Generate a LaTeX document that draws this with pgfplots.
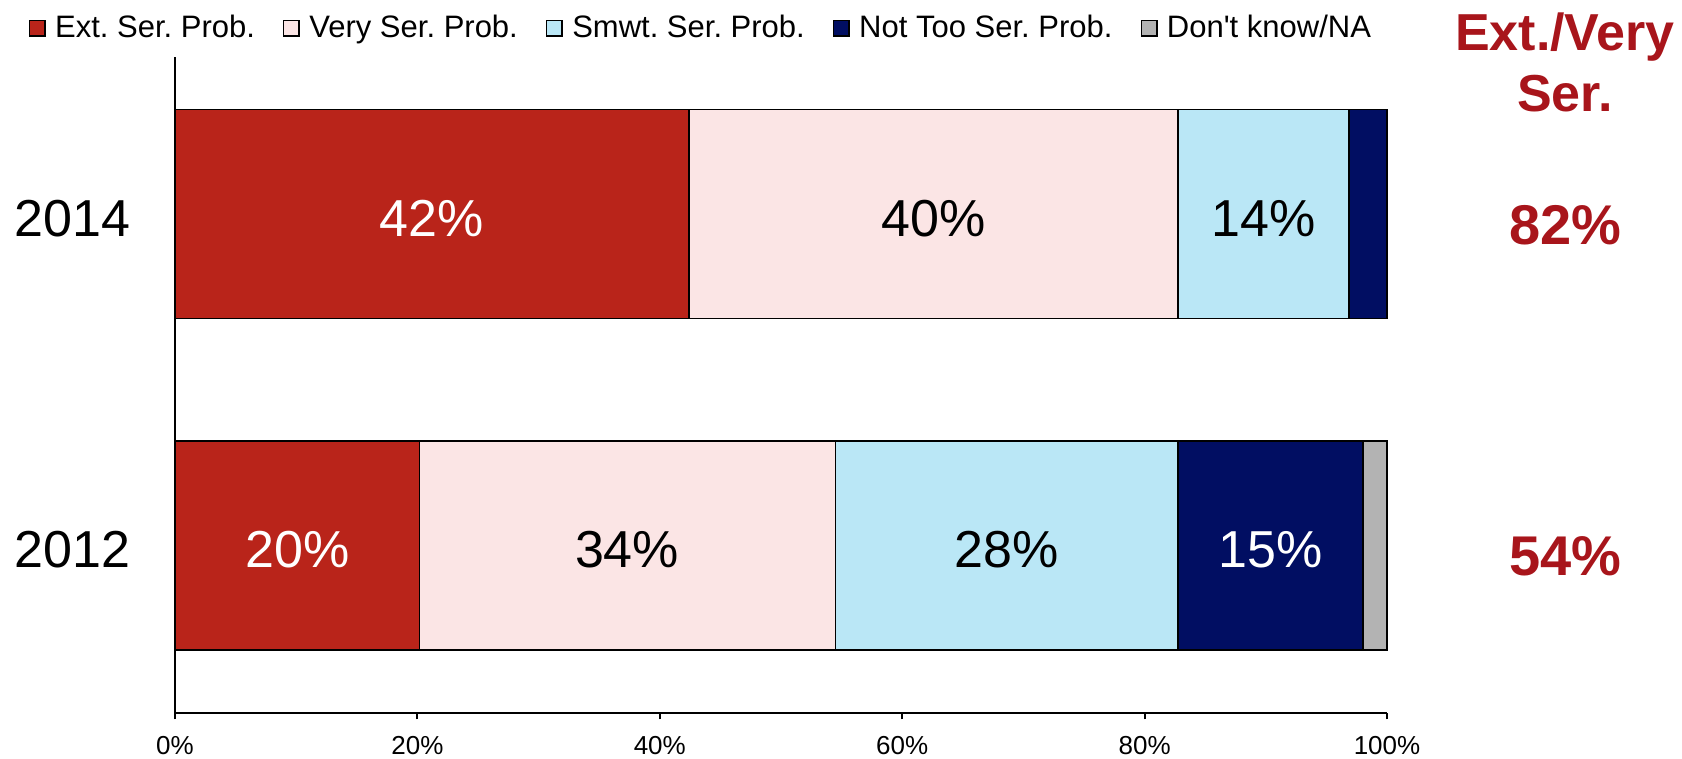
\documentclass[border=0pt]{standalone}
\usepackage{pgfplots}
\pgfplotsset{compat=1.18}
\usepackage{pgfplotstable}
\usepackage{fontspec}
\setmainfont{Liberation Sans}
\frenchspacing
\definecolor{cext}{HTML}{B9241A}
\definecolor{cvery}{HTML}{FBE5E5}
\definecolor{csmwt}{HTML}{BAE7F6}
\definecolor{cnot}{HTML}{010E62}
\definecolor{cdk}{HTML}{B3B3B3}
\definecolor{chdr}{HTML}{A8151B}

\pgfplotstableread{
y ext very smwt nottoo dk
0 20.17 34.33 28.25 15.25 2.0
1 42.4 40.35 14.1 3.15 0
}\bars

\pgfplotstableread{
x y lab
21.2 1 42\%
10.1 0 20\%
90.4 0 15\%
}\whitelabels

\pgfplotstableread{
x y lab
62.6 1 40\%
89.8 1 14\%
37.3 0 34\%
68.6 0 28\%
}\blacklabels

\pgfplotstableread{
x y lab
114.69 1 82\%
114.69 0 54\%
}\sumlabels

\begin{document}
\begin{tikzpicture}
\pgfplotsset{
  common/.style={scale only axis, width=606pt, height=327.85pt,
    at={(87.5pt,-356.35pt)}, anchor=south west,
    xmin=0, xmax=100, ymin=-0.504, ymax=1.4736, clip=false},
  leg/.style={legend image code/.code={\draw[##1, line width=0.75pt, draw=black] (0pt,-3.875pt) rectangle (7.75pt,3.875pt);}},
  lbl/.style={only marks, mark=*, mark size=0pt, mark options={draw=none, fill=none},
    nodes near coords, point meta=explicit symbolic,
    every node near coord/.append style={anchor=base, inner sep=0pt, yshift=-11pt, font=\fontsize{26}{26}\selectfont, text=#1}},
}
\begin{axis}[common, xbar stacked, bar width=104.5pt,
  axis x line*=bottom, axis y line*=left,
  axis line style={line width=1pt, -},
  xtick={0,20,40,60,80,100},
  xticklabel={\pgfmathprintnumber{\tick}\%},
  /pgf/number format/assume math mode=true,
  tick align=outside, major tick length=3.3pt,
  x tick style={line width=1pt, black},
  ytick={0,1}, yticklabels={2012,2014}, y tick style={draw=none},
  xticklabel style={font=\fontsize{13}{13}\selectfont, inner sep=0pt, anchor=base, yshift=-17.5pt},
  yticklabel style={font=\fontsize{26}{26}\selectfont, inner sep=0pt, anchor=base east, xshift=-19pt, yshift=-11pt},
  legend style={at={(axis description cs:-0.12104,1.064)}, anchor=north west,
    legend columns=5, draw=none, fill=none, inner sep=0pt,
    font=\fontsize{15.5}{15.5}\selectfont,
    /tikz/every odd column/.append style={column sep=4.7pt},
    /tikz/every even column/.append style={column sep=14pt},
    nodes={inner sep=0pt}},
]
\addplot[fill=cext, draw=black, line width=0.75pt, leg] table[x=ext, y=y] {\bars};
\addplot[fill=cvery, draw=black, line width=0.75pt, leg] table[x=very, y=y] {\bars};
\addplot[fill=csmwt, draw=black, line width=0.75pt, leg] table[x=smwt, y=y] {\bars};
\addplot[fill=cnot, draw=black, line width=0.75pt, leg] table[x=nottoo, y=y] {\bars};
\addplot[fill=cdk, draw=black, line width=0.75pt, leg] table[x=dk, y=y] {\bars};
\legend{Ext. Ser. Prob., Very Ser. Prob., Smwt. Ser. Prob., Not Too Ser. Prob., Don\textquotesingle t know/NA}
\end{axis}
\begin{axis}[common, hide axis]
\addplot[lbl=white] table[x=x, y=y, meta=lab] {\whitelabels};
\addplot[lbl=black] table[x=x, y=y, meta=lab] {\blacklabels};
\addplot[only marks, mark=*, mark size=0pt, mark options={draw=none, fill=none},
    nodes near coords, point meta=explicit symbolic,
    every node near coord/.append style={anchor=base, inner sep=0pt, yshift=-15pt, font=\fontsize{28}{28}\selectfont\bfseries, text=chdr}]
    table[x=x, y=y, meta=lab] {\sumlabels};
\end{axis}
\node[anchor=base, inner sep=0pt, text=chdr, font=\fontsize{26}{26}\selectfont\bfseries] at (782.5pt,-25.35pt) {Ext./Very};
\node[anchor=base, inner sep=0pt, text=chdr, font=\fontsize{26}{26}\selectfont\bfseries] at (782.5pt,-55.85pt) {Ser.};
\pgfresetboundingbox
\useasboundingbox (0pt,0pt) rectangle (841pt,-379.5pt);
\end{tikzpicture}
\end{document}
